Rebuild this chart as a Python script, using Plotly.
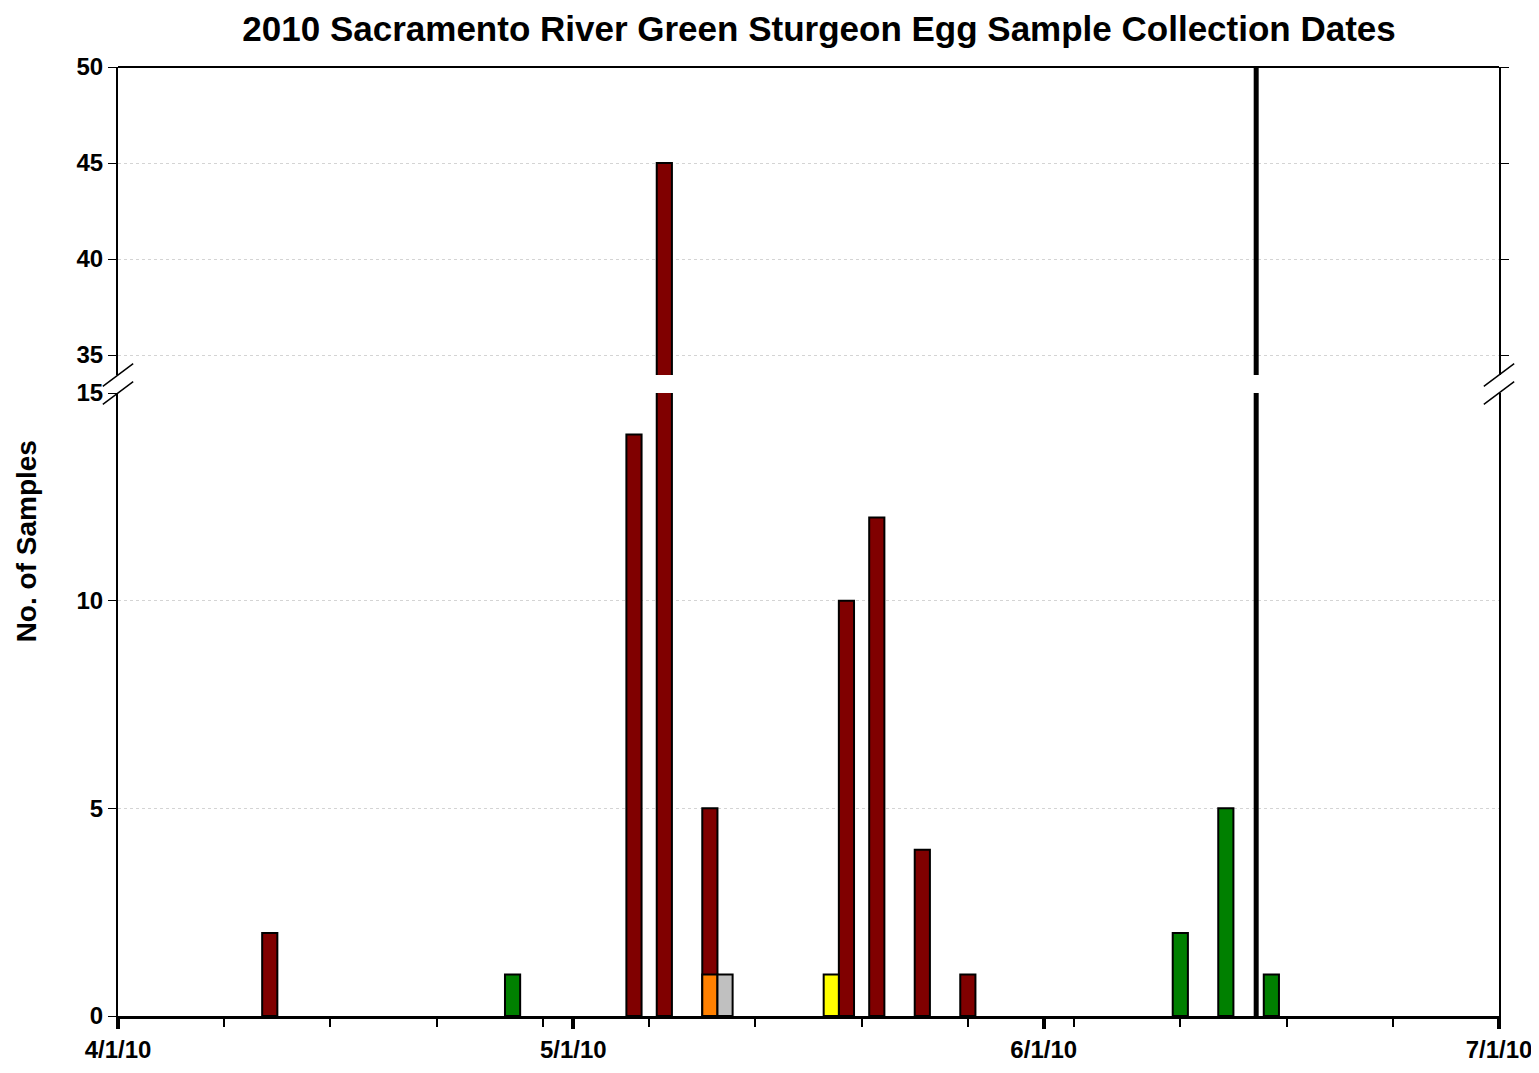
import plotly.graph_objects as go

red_dates = ["2010-04-11","2010-05-05","2010-05-07","2010-05-10","2010-05-19","2010-05-21","2010-05-24","2010-05-27"]
red_vals = [2,14,45,5,10,12,4,1]
green_dates = ["2010-04-27","2010-06-10","2010-06-13","2010-06-16"]
green_vals = [1,2,5,1]
orange_dates = ["2010-05-10"]; orange_vals = [1]
grey_dates = ["2010-05-11"]; grey_vals = [1]
yellow_dates = ["2010-05-18"]; yellow_vals = [1]
vline_date = "2010-06-15"

DAY = 86400000
series = [(red_dates, red_vals, "#800000"), (green_dates, green_vals, "#008000"),
          (orange_dates, orange_vals, "#FF8000"), (grey_dates, grey_vals, "#C0C0C0"),
          (yellow_dates, yellow_vals, "#FFFF00")]

fig = go.Figure()
for ya in ["y", "y2"]:
    for d, v, c in series:
        fig.add_trace(go.Bar(x=d, y=v, yaxis=ya, width=[DAY]*len(d), marker_color=c,
                             marker_line=dict(color="black", width=2), showlegend=False))

lowtop = (1016-393)/949
uppbot = (1016-375)/949
fnt = dict(family="Liberation Sans, Arial", size=24, color="black")
fig.update_layout(
    barmode="overlay", plot_bgcolor="white", paper_bgcolor="white",
    width=1539, height=1073, margin=dict(l=110, r=48, t=59, b=65),
    title=dict(text="<b>2010 Sacramento River Green Sturgeon Egg Sample Collection Dates</b>",
               x=0.527, xanchor="center", y=0.992, yanchor="top",
               font=dict(family="Liberation Sans, Arial", size=35, color="black")),
    font=fnt,
    xaxis=dict(type="date", range=["2010-04-01", "2010-07-01"], dtick="M1", tick0="2010-04-01",
               tickformat="<b>%-m/%-d/%y</b>", ticks="outside", ticklen=10, tickwidth=4, tickcolor="black",
               showline=True, linecolor="black", linewidth=3, showgrid=False, zeroline=False,
               minor=dict(dtick=7*DAY, tick0="2010-04-08", ticks="outside", ticklen=8, tickwidth=1.5, tickcolor="black"),
               anchor="y"),
    yaxis=dict(domain=[0, lowtop], range=[0, 15], tickvals=[0,5,10,15], ticktext=["<b>0</b>","<b>5</b>","<b>10</b>","<b>15</b>"],
               ticks="outside", ticklen=8, tickcolor="black", showline=True, linecolor="black", linewidth=2,
               mirror=True, showgrid=True, gridcolor="#d4d4d4", griddash="dot", gridwidth=1, zeroline=False, anchor="x"),
    yaxis2=dict(domain=[uppbot, 1], range=[33.96, 50], tickvals=[35,40,45,50],
                ticktext=["<b>35</b>","<b>40</b>","<b>45</b>","<b>50</b>"],
                ticks="outside", ticklen=8, tickcolor="black", showline=True, linecolor="black", linewidth=2,
                mirror="allticks", showgrid=True, gridcolor="#d4d4d4", griddash="dot", gridwidth=1, zeroline=False, anchor="x"),
)
fig.add_annotation(text="<b>No. of Samples</b>", xref="paper", yref="paper", x=-0.066, y=0.5,
                   textangle=-90, showarrow=False, font=dict(size=28, color="black"),
                   xanchor="center", yanchor="middle")
fig.add_shape(type="line", xref="paper", yref="paper", x0=0, x1=1, y0=1, y1=1, line=dict(color="black", width=2))
fig.add_shape(type="line", xref="x", yref="y", x0=vline_date, x1=vline_date, y0=0, y1=15, line=dict(color="black", width=5))
fig.add_shape(type="line", xref="x", yref="y2", x0=vline_date, x1=vline_date, y0=33.96, y1=50, line=dict(color="black", width=5))
for xp in [0, 1]:
    for yp in [lowtop, uppbot]:
        fig.add_shape(type="line", xref="paper", yref="paper", x0=xp-0.011, x1=xp+0.011,
                      y0=yp-0.012, y1=yp+0.012, line=dict(color="black", width=1.5))
fig.write_html("out.html")
